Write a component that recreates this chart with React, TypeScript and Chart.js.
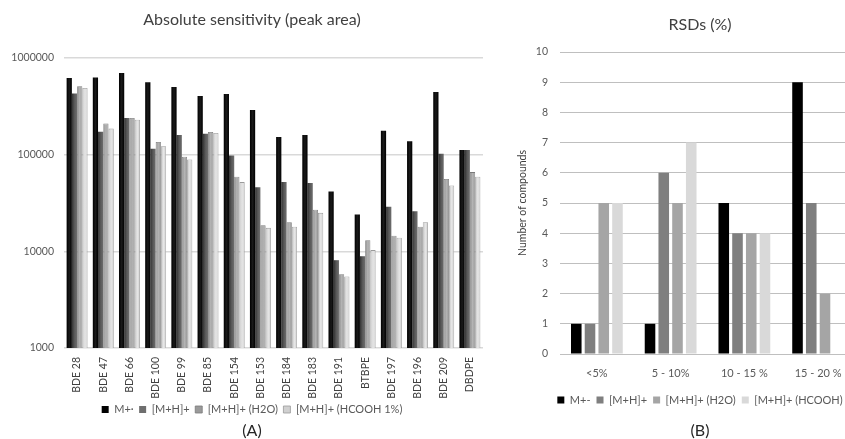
import React, { useEffect, useRef } from 'react';
import { Chart, registerables } from 'chart.js';

Chart.register(...registerables);

// ---------- Panel A data ----------
const compounds = ['BDE 28', 'BDE 47', 'BDE 66', 'BDE 100', 'BDE 99', 'BDE 85', 'BDE 154', 'BDE 153', 'BDE 184', 'BDE 183', 'BDE 191', 'BTBPE', 'BDE 197', 'BDE 196', 'BDE 209', 'DBDPE'];
const seriesNamesA = ['M+·', '[M+H]+', '[M+H]+ (H2O)', '[M+H]+ (HCOOH 1%)'];
const mPlusA = [620000, 630000, 700000, 560000, 500000, 405000, 425000, 290000, 152000, 160000, 41500, 24000, 177000, 138000, 445000, 112000];
const mhPlusA = [430000, 173000, 240000, 115000, 160000, 165000, 98000, 46000, 52000, 51000, 8100, 8900, 29000, 26000, 102000, 112000];
const mhH2OA = [510000, 210000, 240000, 135000, 95000, 172000, 59000, 18600, 20000, 27000, 5800, 13000, 14500, 18000, 56000, 66000];
const mhHCOOHA = [490000, 186000, 230000, 122000, 89000, 168000, 52000, 17500, 18000, 25000, 5500, 10300, 13800, 20000, 48000, 59000];
const logTicksA = [1000, 10000, 100000, 1000000];

// ---------- Panel B data ----------
const rsdBins = ['<5%', '5 - 10%', '10 - 15 %', '15 - 20 %'];
const seriesNamesB = ['M+-', '[M+H]+', '[M+H]+ (H2O)', '[M+H]+ (HCOOH)'];
const mPlusB = [1, 1, 5, 9];
const mhPlusB = [1, 6, 4, 5];
const mhH2OB = [5, 5, 4, 2];
const mhHCOOHB = [5, 7, 4, 0];

const FONT = 'Lato, "Open Sans", sans-serif';
const CAT_A = 0.8;
const BAR_A = 1.0;

const shadesA: [string, string, string][] = [
  ['#000000', '#1a1a1a', '#000000'],
  ['#333333', '#595959', '#6e6e6e'],
  ['#8c8c8c', '#b4b4b4', '#9a9a9a'],
  ['#c4c4c4', '#e6e6e6', '#d0d0d0'],
];
const bordersA = ['#000000', '#404040', '#7a7a7a', '#9a9a9a'];
const colorsB = ['#000000', '#7f7f7f', '#a5a5a5', '#d9d9d9'];

function gradientFor(si: number) {
  return (ctx: any) => {
    const shade = shadesA[si];
    const chart = ctx.chart;
    const xs = chart.scales && chart.scales.x;
    if (ctx.type !== 'data' || !xs) return shade[1];
    const n = chart.data.labels.length;
    const cat = ((xs.right - xs.left) / n) * CAT_A;
    const bw = (cat / 4) * BAR_A;
    const cx = xs.getPixelForValue(ctx.dataIndex) - cat / 2 + (si + 0.5) * (cat / 4);
    const x0 = cx - bw / 2;
    const x1 = cx + bw / 2;
    if (!isFinite(x0) || !isFinite(x1) || !(bw > 0)) return shade[1];
    const g = chart.ctx.createLinearGradient(x0, 0, x1, 0);
    g.addColorStop(0, shade[0]);
    g.addColorStop(0.5, shade[1]);
    g.addColorStop(1, shade[2]);
    return g;
  };
}

// invisible spacer axis on the right, used only to reserve room
function spacerAxis(width: number) {
  return {
    type: 'linear',
    position: 'right',
    display: true,
    grid: { display: false, drawTicks: false },
    border: { display: false },
    ticks: { display: false },
    afterFit: (s: any) => { s.width = width; },
  };
}

function PanelA() {
  const ref = useRef<HTMLCanvasElement>(null);
  useEffect(() => {
    const valuesA = [mPlusA, mhPlusA, mhH2OA, mhHCOOHA];
    const chart = new Chart(ref.current!, {
      type: 'bar',
      data: {
        labels: compounds,
        datasets: seriesNamesA.map((name, i) => ({
          label: name,
          data: valuesA[i],
          backgroundColor: gradientFor(i),
          borderColor: bordersA[i],
          borderWidth: i >= 2 ? 0.8 : 0,
          borderSkipped: 'bottom',
          categoryPercentage: CAT_A,
          barPercentage: BAR_A,
        })),
      },
      options: {
        responsive: false,
        animation: false,
        events: [],
        layout: { padding: 0 },
        scales: {
          x: {
            grid: { display: false },
            border: { display: false },
            ticks: {
              autoSkip: false,
              minRotation: 90,
              maxRotation: 90,
              padding: 1,
              color: '#404040',
              font: { family: FONT, size: 10.5 },
            },
            afterFit: (s: any) => { s.height = 50.5; },
          },
          y: {
            type: 'logarithmic',
            min: 1000,
            max: 1000000,
            border: { display: false },
            grid: { color: '#d9d9d9', lineWidth: 1.5, drawTicks: false },
            afterBuildTicks: (s: any) => { s.ticks = logTicksA.map((v) => ({ value: v })); },
            ticks: {
              padding: 10,
              color: '#595959',
              font: { family: FONT, size: 10.5 },
              callback: (v: any) => String(v),
            },
            afterFit: (s: any) => { s.width = 64; },
          },
          yr: spacerAxis(21),
        },
        plugins: {
          tooltip: { enabled: false },
          title: {
            display: true,
            text: 'Absolute sensitivity (peak area)',
            color: '#404040',
            font: { family: FONT, size: 16, weight: 'normal' },
            padding: { top: 10.4, bottom: 28.4 },
          },
          legend: {
            position: 'bottom',
            labels: {
              boxWidth: 7,
              boxHeight: 7,
              padding: 5.5,
              color: '#595959',
              font: { family: FONT, size: 11 },
            },
          },
          subtitle: {
            display: true,
            position: 'bottom',
            text: '(A)',
            color: '#262626',
            font: { family: FONT, size: 16, lineHeight: '11px' },
            padding: { top: 0, bottom: 3 },
          },
        },
      } as any,
    });
    return () => chart.destroy();
  }, []);
  return <canvas ref={ref} width={504} height={439} style={{ position: 'absolute', left: 0, top: 0, width: 504, height: 439 }} />;
}

function PanelB() {
  const ref = useRef<HTMLCanvasElement>(null);
  useEffect(() => {
    const valuesB = [mPlusB, mhPlusB, mhH2OB, mhHCOOHB];
    const chart = new Chart(ref.current!, {
      type: 'bar',
      data: {
        labels: rsdBins,
        datasets: seriesNamesB.map((name, i) => ({
          label: name,
          data: valuesB[i],
          backgroundColor: colorsB[i],
          borderWidth: 0,
          categoryPercentage: 0.745,
          barPercentage: 0.77,
        })),
      },
      options: {
        responsive: false,
        animation: false,
        events: [],
        layout: { padding: 0 },
        scales: {
          x: {
            grid: { display: false },
            border: { display: false },
            ticks: {
              padding: 5,
              color: '#595959',
              font: { family: FONT, size: 11 },
            },
            afterFit: (s: any) => { s.height = 34.5; },
          },
          y: {
            min: 0,
            max: 10,
            border: { display: false },
            grid: { color: '#bfbfbf', lineWidth: 1, drawTicks: false },
            ticks: {
              stepSize: 1,
              padding: 12,
              color: '#595959',
              font: { family: FONT, size: 10.5 },
            },
            title: {
              display: true,
              text: 'Number of compounds',
              color: '#404040',
              font: { family: FONT, size: 10.5 },
              padding: { top: 26, bottom: 0 },
            },
            afterFit: (s: any) => { s.width = 70; },
          },
          yr: spacerAxis(55),
        },
        plugins: {
          tooltip: { enabled: false },
          title: {
            display: true,
            text: 'RSDs (%)',
            color: '#404040',
            font: { family: FONT, size: 16, weight: 'normal' },
            padding: { top: 15.4, bottom: 17.4 },
          },
          legend: {
            position: 'bottom',
            labels: {
              boxWidth: 7,
              boxHeight: 7,
              padding: 6,
              color: '#595959',
              font: { family: FONT, size: 11 },
            },
          },
          subtitle: {
            display: true,
            position: 'bottom',
            text: '(B)',
            color: '#262626',
            font: { family: FONT, size: 16, lineHeight: '16px' },
            padding: { top: 7.5, bottom: 0 },
          },
        },
      } as any,
    });
    return () => chart.destroy();
  }, []);
  return <canvas ref={ref} width={420} height={439} style={{ position: 'absolute', left: 490, top: 0, width: 420, height: 439 }} />;
}

export default function App() {
  return (
    <div style={{ position: 'fixed', left: 0, top: 0, width: 845, height: 439, overflow: 'hidden', background: '#ffffff' }}>
      <PanelA />
      <PanelB />
    </div>
  );
}
